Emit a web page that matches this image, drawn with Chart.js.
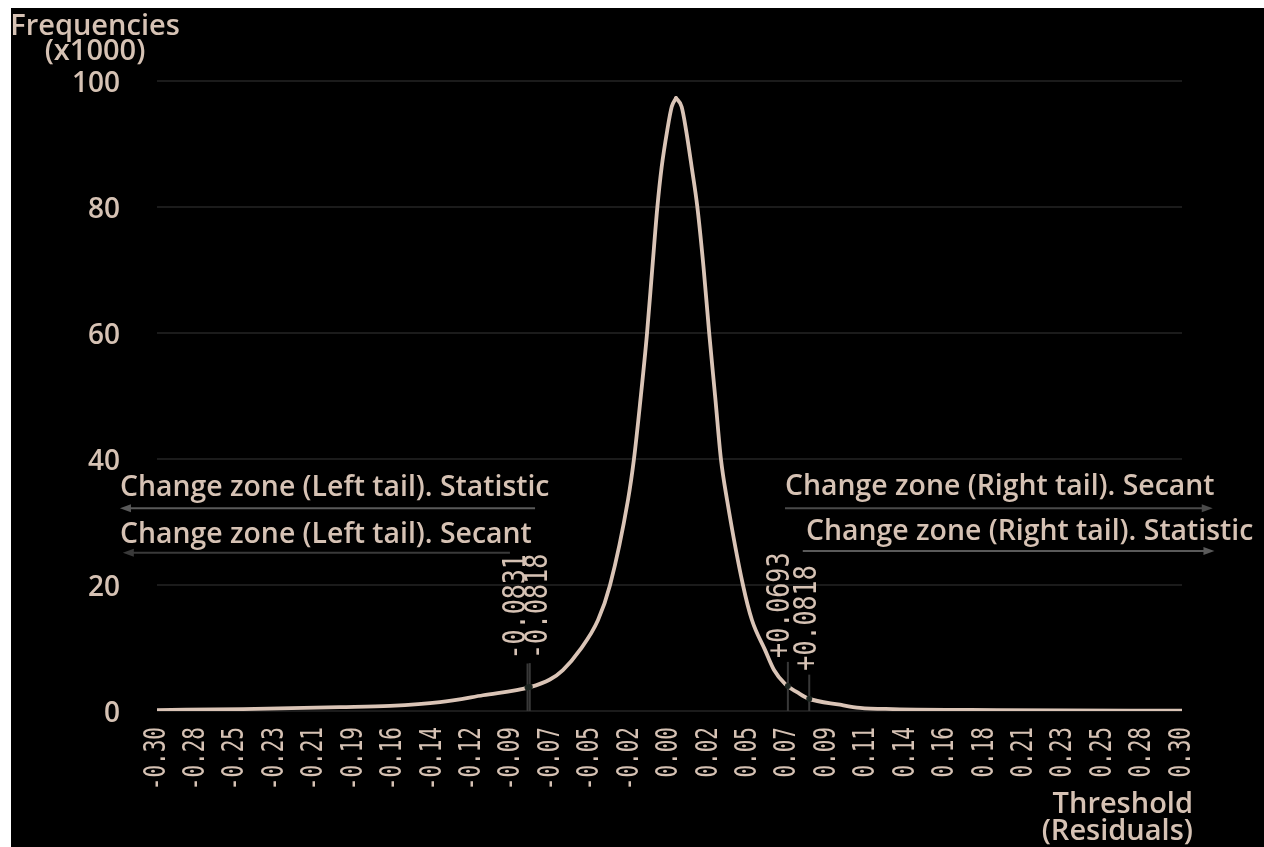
<!DOCTYPE html>
<html>
<head>
<meta charset="utf-8">
<script src="https://cdn.jsdelivr.net/npm/chart.js@4.4.1/dist/chart.umd.min.js"></script>
<style>
  html, body { margin: 0; padding: 0; background: #ffffff; }
  #frame { position: absolute; left: 11px; top: 8px; width: 1253px; height: 839px; background: #000000; }
  canvas { display: block; }
</style>
</head>
<body>
<div id="frame"><canvas id="chart" width="1253" height="839"></canvas></div>
<script>
// Threshold (residual) tick labels along the x axis
const xTickLabels = ['-0.30','-0.28','-0.25','-0.23','-0.21','-0.19','-0.16','-0.14','-0.12',
  '-0.09','-0.07','-0.05','-0.02','0.00','0.02','0.05','0.07','0.09','0.11','0.14','0.16',
  '0.18','0.21','0.23','0.25','0.28','0.30'];

// Residual values and their frequencies (x1000)
const residuals = [-0.300, -0.2497, -0.1929, -0.1636, -0.1343, -0.1092, -0.0816, -0.0700,
  -0.0624, -0.0524, -0.0419, -0.0348, -0.0243, -0.0208, -0.0170, -0.0132, -0.0100, -0.0071,
  -0.0046, -0.0013, 0.0013, 0.0038, 0.0071, 0.0097, 0.0130, 0.0163, 0.0199, 0.0233, 0.0269,
  0.0301, 0.0337, 0.0430, 0.0483, 0.0559, 0.0612, 0.0676, 0.0752, 0.0811, 0.0998, 0.1115,
  0.1308, 0.1917, 0.300];
const frequencies = [0.15, 0.3, 0.6, 0.8, 1.4, 2.5, 3.8, 5.0, 6.5, 9.7, 14.4, 20, 33.5, 40,
  49.4, 59.8, 70.5, 80, 86.3, 92.2, 95.9, 97.3, 95.9, 92.2, 86.3, 80, 70.5, 59.8, 49.4, 40,
  33.5, 20, 14.4, 9.7, 6.5, 4.3, 2.9, 2.0, 1.0, 0.5, 0.3, 0.15, 0.05];

// Change-zone thresholds
const thresholdValues = [-0.0831, -0.0818, 0.0693, 0.0818];
const thresholdLabels = ['-0.0831', '-0.0818', '+0.0693', '+0.0818'];

// Change-zone captions and the residual span each arrow covers (from -> to)
const zoneLabels = ['Change zone (Left tail). Statistic', 'Change zone (Left tail). Secant',
  'Change zone (Right tail). Secant', 'Change zone (Right tail). Statistic'];
const zoneArrowFrom = [-0.0787, -0.0934, 0.0676, 0.0780];
const zoneArrowTo = [-0.3217, -0.3200, 0.3180, 0.3190];

const yTitle = ['Frequencies', '(x1000)'];
const xTitle = ['Threshold', '(Residuals)'];

// ---- styling ----
const TEXT = '#d6c2b4';
const LINE = '#dac4b6';
const GRID = '#1b1b1b';
const SANS = "'Open Sans', 'Noto Sans', sans-serif";
const MONO = "'DejaVu Sans Mono', 'Liberation Mono', monospace";

// caption placement (frequency units for rows, pixel offsets for label nudges)
const zoneTextY = [34.1, 26.7, 34.3, 27.1];
const zoneArrowY = [32.2, 25.1, 32.2, 25.4];
const zoneArrowColor = ['#5a5a5a', '#3a3a3a', '#4a4a4a', '#5a5a5a'];
const zoneTextX = [-0.3217, -0.3217, 0.0676, 0.0799];
const thresholdLabelDx = [-11, 9, -7, -1];

function curveAt(v) {
  for (let i = 1; i < residuals.length; i++) {
    if (v <= residuals[i]) {
      const t = (v - residuals[i - 1]) / (residuals[i] - residuals[i - 1]);
      return frequencies[i - 1] + t * (frequencies[i] - frequencies[i - 1]);
    }
  }
  return frequencies[frequencies.length - 1];
}

// rotated (bottom-to-top) text with tall, narrow glyphs
function verticalText(ctx, text, px, py, align, stretch) {
  ctx.save();
  ctx.translate(px, py);
  ctx.rotate(-Math.PI / 2);
  ctx.scale(1, stretch);
  ctx.textAlign = align;
  ctx.textBaseline = 'middle';
  ctx.fillText(text, 0, 0);
  ctx.restore();
}

const overlay = {
  id: 'overlay',
  afterDatasetsDraw(chart) {
    const { ctx, scales: { x, y } } = chart;
    ctx.save();

    // x tick labels at the scale's tick positions
    ctx.font = '21px ' + MONO;
    ctx.fillStyle = TEXT;
    x.ticks.forEach((t, i) => {
      verticalText(ctx, xTickLabels[i], x.getPixelForValue(t.value), x.top + 16, 'right', 1.4);
    });

    // threshold markers crossing the curve
    const y0 = y.getPixelForValue(0);
    thresholdValues.forEach((v) => {
      const px = x.getPixelForValue(v);
      const cy = y.getPixelForValue(curveAt(v));
      ctx.strokeStyle = '#383838';
      ctx.lineWidth = 2;
      ctx.beginPath();
      ctx.moveTo(px, y0);
      ctx.lineTo(px, cy - 24);
      ctx.stroke();
      ctx.fillStyle = '#1b241f';
      ctx.beginPath();
      ctx.arc(px, cy, 3, 0, Math.PI * 2);
      ctx.fill();
    });

    // rotated threshold values
    ctx.font = '25px ' + MONO;
    ctx.fillStyle = TEXT;
    thresholdValues.forEach((v, i) => {
      const px = x.getPixelForValue(v) + thresholdLabelDx[i];
      const cy = y.getPixelForValue(curveAt(v));
      verticalText(ctx, thresholdLabels[i], px, cy - 28, 'left', 1.25);
    });

    // change-zone captions and arrows
    zoneLabels.forEach((label, i) => {
      ctx.font = '600 28.4px ' + SANS;
      ctx.fillStyle = TEXT;
      ctx.textAlign = 'left';
      ctx.textBaseline = 'alphabetic';
      ctx.fillText(label, x.getPixelForValue(zoneTextX[i]), y.getPixelForValue(zoneTextY[i]));

      const ax0 = x.getPixelForValue(zoneArrowFrom[i]);
      const ax1 = x.getPixelForValue(zoneArrowTo[i]);
      const ay = y.getPixelForValue(zoneArrowY[i]);
      const dir = Math.sign(ax1 - ax0);
      ctx.strokeStyle = zoneArrowColor[i];
      ctx.fillStyle = zoneArrowColor[i];
      ctx.lineWidth = 2;
      ctx.beginPath();
      ctx.moveTo(ax0, ay);
      ctx.lineTo(ax1 - dir * 8, ay);
      ctx.stroke();
      ctx.beginPath();
      ctx.moveTo(ax1, ay);
      ctx.lineTo(ax1 - dir * 11, ay - 4);
      ctx.lineTo(ax1 - dir * 11, ay + 4);
      ctx.closePath();
      ctx.fill();
    });

    // axis titles
    ctx.font = '600 29px ' + SANS;
    ctx.fillStyle = TEXT;
    ctx.textAlign = 'center';
    ctx.textBaseline = 'alphabetic';
    ctx.fillText(yTitle[0], 84, 27);
    ctx.fillText(yTitle[1], 84, 52);
    ctx.textAlign = 'right';
    ctx.fillText(xTitle[0], 1182, 805);
    ctx.fillText(xTitle[1], 1182, 832);

    ctx.restore();
  }
};

const tickCount = xTickLabels.length;

// the curve is stroked as two flanks meeting at the mode, so the apex stays pointed
const points = residuals.map((r, i) => ({ x: r, y: frequencies[i] }));
const peakIndex = frequencies.indexOf(Math.max(...frequencies));
const flank = (data) => ({
  data,
  borderColor: LINE,
  borderWidth: 3.8,
  borderCapStyle: 'round',
  borderJoinStyle: 'round',
  pointRadius: 0,
  cubicInterpolationMode: 'monotone',
  fill: false
});

new Chart(document.getElementById('chart'), {
  type: 'line',
  data: {
    datasets: [flank(points.slice(0, peakIndex + 1)), flank(points.slice(peakIndex))]
  },
  options: {
    responsive: false,
    animation: false,
    events: [],
    layout: { padding: { top: 73, right: 82, left: 0, bottom: 0 } },
    plugins: { legend: { display: false }, tooltip: { enabled: false } },
    scales: {
      x: {
        type: 'linear',
        min: -0.3,
        max: 0.3,
        afterBuildTicks: (scale) => {
          scale.ticks = xTickLabels.map((_, i) => ({ value: -0.3 + (0.6 * i) / (tickCount - 1) }));
        },
        afterFit: (scale) => { scale.height = 136; },
        grid: { display: false, drawTicks: false },
        border: { display: false },
        ticks: { display: false, autoSkip: false }
      },
      y: {
        min: 0,
        max: 100,
        afterFit: (scale) => { scale.width = 146; },
        grid: { color: GRID, lineWidth: 2, drawTicks: false },
        border: { display: false },
        ticks: {
          stepSize: 20,
          padding: 37,
          labelOffset: 3,
          color: TEXT,
          font: { family: SANS, size: 28, weight: '600' }
        }
      }
    }
  },
  plugins: [overlay]
});
</script>
</body>
</html>
